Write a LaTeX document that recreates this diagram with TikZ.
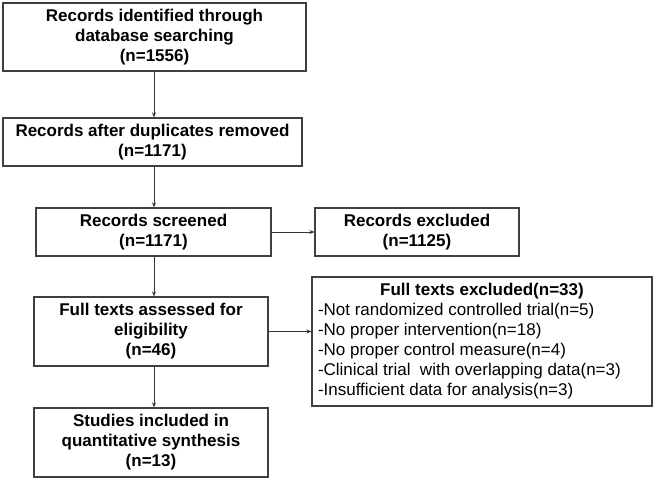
\documentclass[tikz,border=0pt]{standalone}
\usepackage{fontspec}
\setmainfont{Liberation Sans}
\usetikzlibrary{arrows.meta}
\tikzset{
  box/.style={draw=black!75, line width=1.2pt, rectangle, align=center, inner sep=0pt,
              font=\fontsize{17}{20}\selectfont\bfseries},
  arr/.style={draw=black!80, line width=0.9pt, -{Stealth[length=5pt,width=4pt]}},
}
\begin{document}
\begin{tikzpicture}[x=1pt,y=-1pt]
\useasboundingbox (0,0) rectangle (655,480);
\node[box, minimum width=303pt, minimum height=68pt] (b1) at (154.5,37)
  {Records identified through\\database searching\\(n=1556)};
\node[box, minimum width=299pt, minimum height=48pt] (b2) at (152.5,142)
  {Records after duplicates removed\\(n=1171)};
\node[box, minimum width=235pt, minimum height=48pt] (b3) at (153.5,232)
  {Records screened\\(n=1171)};
\node[box, minimum width=204pt, minimum height=48pt] (e1) at (417,232)
  {Records excluded\\(n=1125)};
\node[box, minimum width=234pt, minimum height=69pt] (b4) at (151,331.5)
  {Full texts assessed for\\eligibility\\(n=46)};
\node[box, minimum width=234pt, minimum height=69pt] (b5) at (151,442.5)
  {Studies included in\\quantitative synthesis\\(n=13)};
\node[box, minimum width=340pt, minimum height=129pt, font=\fontsize{17}{20}\selectfont] (e2) at (482,341.5)
  {\begin{tabular}{@{}p{328pt}@{}}
   \centering\bfseries Full texts excluded(n=33)\tabularnewline
   -Not randomized controlled trial(n=5)\tabularnewline
   -No proper intervention(n=18)\tabularnewline
   -No proper control measure(n=4)\tabularnewline
   -Clinical trial\ \ with overlapping data(n=3)\tabularnewline
   -Insufficient data for analysis(n=3)
   \end{tabular}};
\coordinate (xc) at (154,0);
\draw[arr] (b1.south -| xc) -- (b2.north -| xc);
\draw[arr] (b2.south -| xc) -- (b3.north -| xc);
\draw[arr] (b3.south -| xc) -- (b4.north -| xc);
\draw[arr] (b4.south -| xc) -- (b5.north -| xc);
\draw[arr] (b3.east) -- (e1.west);
\draw[arr] (b4.east) -- (b4.east -| e2.west);
\end{tikzpicture}
\end{document}
